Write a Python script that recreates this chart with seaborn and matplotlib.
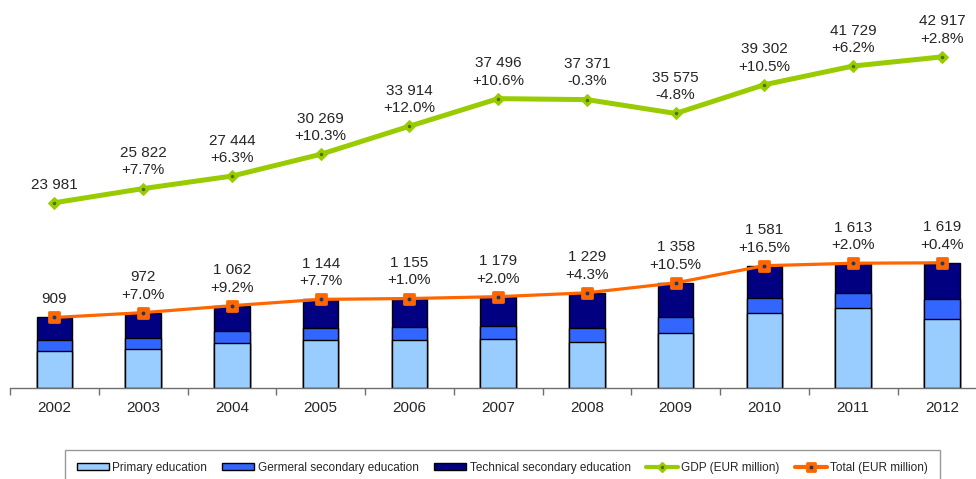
import numpy as np
import pandas as pd
import seaborn as sns
import matplotlib.pyplot as plt
from matplotlib.patches import Patch
from matplotlib.lines import Line2D
from matplotlib.markers import MarkerStyle

''' Data '''

years = ["2002", "2003", "2004", "2005", "2006", "2007", "2008", "2009", "2010", "2011", "2012"]
primary = [478, 496, 574, 617, 617, 626, 595, 712, 964, 1029, 886]
general = [139, 143, 156, 160, 173, 173, 182, 208, 195, 195, 268]
technical = [292, 333, 332, 367, 365, 380, 452, 438, 422, 389, 465]
total = [909, 972, 1062, 1144, 1155, 1179, 1229, 1358, 1581, 1613, 1619]
total_growth = ["", "+7.0%", "+9.2%", "+7.7%", "+1.0%", "+2.0%", "+4.3%", "+10.5%", "+16.5%", "+2.0%", "+0.4%"]
gdp = [23981, 25822, 27444, 30269, 33914, 37496, 37371, 35575, 39302, 41729, 42917]
gdp_growth = ["", "+7.7%", "+6.3%", "+10.3%", "+12.0%", "+10.6%", "-0.3%", "-4.8%", "+10.5%", "+6.2%", "+2.8%"]

C_PRIM = "#99CCFF"
C_GEN = "#3366FF"
C_TECH = "#000080"
C_GDP = "#99CC00"
C_TOT = "#FF6600"

sns.set_style("white")
plt.rcParams['font.family'] = ['Liberation Sans', 'DejaVu Sans']

df = pd.DataFrame({"year": years, "primary": primary, "general": general, "technical": technical})
df["s2"] = df["primary"] + df["general"]
df["s3"] = df["s2"] + df["technical"]

fig = plt.figure(figsize=(9.76, 4.79), dpi=100)
ax = fig.add_axes([10 / 976, 91.5 / 479, 976.3 / 976, 387.5 / 479])

''' Stacked bars (cumulative overlay) '''
for col, c in [("s3", C_TECH), ("s2", C_GEN), ("primary", C_PRIM)]:
    sns.barplot(data=df, x="year", y=col, color=c, width=0.4, saturation=1,
                edgecolor="black", linewidth=1.0, ax=ax, zorder=2)

pos = np.arange(len(years))
sq = MarkerStyle("s", joinstyle="round")
sns.lineplot(x=pos, y=total, ax=ax, color=C_TOT, linewidth=2.3, marker=sq, markersize=7,
             markeredgecolor=C_TOT, markeredgewidth=2, zorder=5)
ax.plot(pos, total, ls="none", marker="o", ms=1.8, color="#1F3864", zorder=6)

for i, v in enumerate(total):
    txt = f"{v:,}".replace(",", " ")
    if total_growth[i]:
        txt += "\n" + total_growth[i]
    ax.annotate(txt, (pos[i], v), xytext=(0, 8), textcoords="offset points",
                ha="center", va="bottom", fontsize=11, linespacing=1.3, zorder=7)

ax.set_xlim(-0.5, len(years) - 0.5)
ax.set_ylim(0, 5030)
ax.set_xlabel("")
ax.set_ylabel("")
ax.set_yticks([])
for s in ["left", "right", "top"]:
    ax.spines[s].set_visible(False)
ax.spines["bottom"].set_color("#6E6E6E")
ax.spines["bottom"].set_linewidth(1.0)
ax.set_xticks(pos)
ax.set_xticklabels(years)
ax.set_xticks(np.arange(-0.5, len(years)), minor=True)
ax.tick_params(axis="x", which="major", length=0, pad=10, labelsize=11)
ax.tick_params(axis="x", which="minor", length=5, width=1, color="#6E6E6E", direction="out", bottom=True)

''' GDP on secondary axis '''
ax2 = ax.twinx()
sns.lineplot(x=pos, y=gdp, ax=ax2, color=C_GDP, linewidth=3.6, marker="D", markersize=6,
             markeredgecolor=C_GDP, zorder=5)
ax2.plot(pos, gdp, ls="none", marker="o", ms=1.5, color="#4F6F00", zorder=6)
for i, v in enumerate(gdp):
    txt = f"{v:,}".replace(",", " ")
    if gdp_growth[i]:
        txt += "\n" + gdp_growth[i]
    ax2.annotate(txt, (pos[i], v), xytext=(0, 8), textcoords="offset points",
                 ha="center", va="bottom", fontsize=11, linespacing=1.3)
ax2.set_ylim(0, 50300)
ax2.set_yticks([])
ax2.set_ylabel("")
for s in ax2.spines.values():
    s.set_visible(False)

''' Legend '''
handles = [
    Patch(facecolor=C_PRIM, edgecolor="black", linewidth=1),
    Patch(facecolor=C_GEN, edgecolor="black", linewidth=1),
    Patch(facecolor=C_TECH, edgecolor="black", linewidth=1),
    (Line2D([], [], color=C_GDP, lw=3, marker="D", ms=5, mec=C_GDP),
     Line2D([], [], ls="none", marker="o", ms=1.5, color="#4F6F00")),
    (Line2D([], [], color=C_TOT, lw=3, marker=sq, ms=6, mec=C_TOT, mew=2),
     Line2D([], [], ls="none", marker="o", ms=1.8, color="#1F3864")),
]
labels = ["Primary education", "Germeral secondary education", "Technical secondary education",
          "GDP (EUR million)", "Total (EUR million)"]
leg = fig.legend(handles, labels, ncol=5, loc="upper left", bbox_to_anchor=(65 / 976, 1 - 450 / 479),
                 fontsize=8.5, frameon=True, fancybox=False, borderpad=1.0, borderaxespad=0,
                 handlelength=2.7, handleheight=0.5, handletextpad=0.3, columnspacing=1.3)
leg.get_frame().set_edgecolor("#808080")
leg.get_frame().set_linewidth(1.0)

fig.savefig("out.png", dpi=100)
